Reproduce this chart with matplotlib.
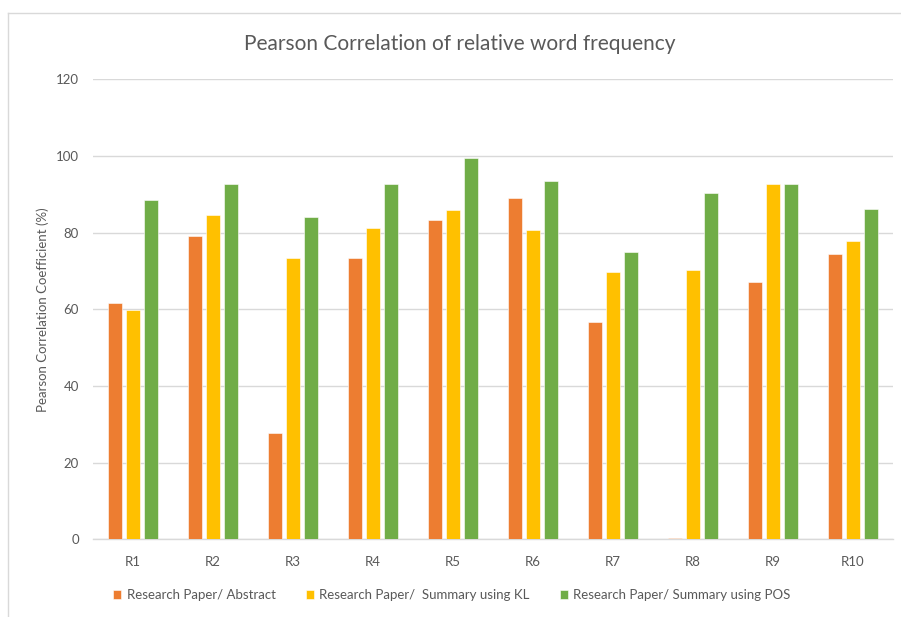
import matplotlib
matplotlib.use("Agg")
import matplotlib.pyplot as plt
import numpy as np

plt.rcParams['font.family'] = ['Lato', 'DejaVu Sans']

categories = ["R1", "R2", "R3", "R4", "R5", "R6", "R7", "R8", "R9", "R10"]
abstract = [61.7, 79.0, 27.7, 73.3, 83.3, 89.0, 56.8, 0.35, 67.0, 74.3]
summary_kl = [59.8, 84.6, 73.3, 81.3, 86.0, 80.7, 69.7, 70.2, 92.6, 77.8]
summary_pos = [88.4, 92.8, 84.2, 92.8, 99.4, 93.4, 74.9, 90.3, 92.6, 86.2]
series_names = ["Research Paper/ Abstract",
                "Research Paper/  Summary using KL",
                "Research Paper/ Summary using POS"]
y_ticks = [0, 20, 40, 60, 80, 100, 120]

colors = ["#ED7D31", "#FFC000", "#70AD47"]
text_color = "#595959"
grid_color = "#D9D9D9"

fig = plt.figure(figsize=(9.01, 6.17), dpi=100)
ax = fig.add_axes([93 / 901, 1 - 539.3 / 617, 800 / 901, 460 / 617])

x = np.arange(len(categories))
pitch = 0.22
width = 0.175
handles = []
for i, (vals, name, c) in enumerate(zip([abstract, summary_kl, summary_pos], series_names, colors)):
    b = ax.bar(x + (i - 1) * pitch, vals, width=width, color=c, label=name,
               edgecolor="white", linewidth=0.4, zorder=3)
    handles.append(b)

ax.set_xlim(-0.5, len(categories) - 0.5)
ax.set_ylim(0, 120)
ax.set_yticks(y_ticks)
ax.set_xticks(x)
ax.set_xticklabels(categories)
ax.yaxis.grid(True, color=grid_color, linewidth=1.0, zorder=0)
ax.set_axisbelow(True)
for s in ["top", "right", "left"]:
    ax.spines[s].set_visible(False)
ax.spines["bottom"].set_color(grid_color)
ax.spines["bottom"].set_linewidth(1.0)
ax.tick_params(axis="both", length=0, colors=text_color, labelsize=9.5)
ax.tick_params(axis="y", pad=10)
ax.tick_params(axis="x", pad=12)

ax.set_ylabel("Pearson Correlation Coefficient (%)", color=text_color, fontsize=9.5, labelpad=5)

fig.text(460 / 901, 1 - 44 / 617, "Pearson Correlation of relative word frequency",
         ha="center", va="center", color=text_color, fontsize=15)

leg = fig.legend(handles=handles, labels=series_names, loc="center",
                 bbox_to_anchor=(452 / 901, 1 - 595 / 617), ncol=3, frameon=False,
                 fontsize=9.5, handlelength=0.6, handleheight=0.6, handletextpad=0.4,
                 columnspacing=2.3, labelcolor=text_color)

# chart area outline (left and top edges)
fig.add_artist(plt.Line2D([7.5 / 901, 7.5 / 901], [0, 1 - 12.7 / 617],
                          transform=fig.transFigure, color=grid_color, linewidth=1.0))
fig.add_artist(plt.Line2D([7.5 / 901, 1], [1 - 12.7 / 617, 1 - 12.7 / 617],
                          transform=fig.transFigure, color=grid_color, linewidth=1.0))

fig.savefig("out.png", dpi=100)
